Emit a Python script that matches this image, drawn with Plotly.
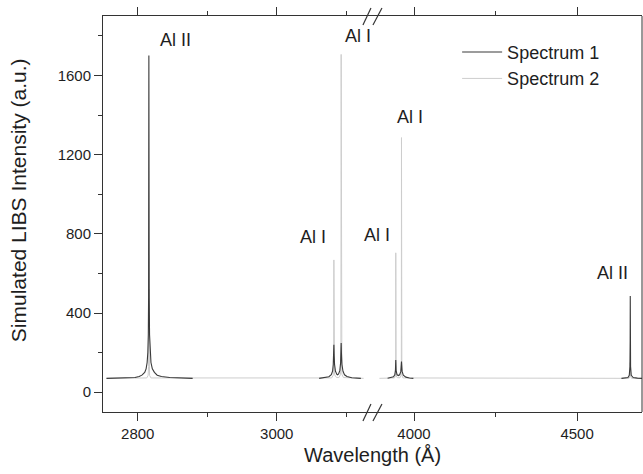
import plotly.graph_objects as go

# ---- Spectrum 1 (dark): hand-read profile points, one list per plotted piece ----
s1_a_wl = [2755, 2780, 2790, 2796, 2802, 2806, 2810, 2812, 2813.5, 2814.5, 2815.2, 2815.6, 2815.8,
           2816.0, 2816.2, 2816.5, 2817.0, 2817.8, 2819, 2821, 2824, 2828, 2834, 2846, 2860, 2879]
s1_a_int = [70, 71, 72, 74, 79, 86, 100, 118, 150, 200, 290, 480, 1120,
            1700, 1120, 480, 290, 200, 150, 118, 100, 86, 79, 74, 72, 70]

s1_b_wl = [3061, 3070, 3075, 3078.5, 3080.3, 3081.3, 3081.8, 3082.2, 3082.6, 3083.2, 3084.5,
           3086.5, 3087.5, 3089, 3090.8, 3091.9, 3092.3, 3092.7, 3093.1, 3093.8, 3095.3,
           3097.5, 3101, 3108, 3121]
s1_b_int = [70, 73, 78, 88, 106, 140, 185, 240, 185, 140, 106,
            90, 88, 92, 110, 150, 195, 248, 195, 140, 106,
            88, 79, 73, 70]

s1_c_wl = [3919, 3930, 3937, 3941, 3943, 3944, 3945, 3948, 3952, 3956, 3959.5,
           3961.5, 3963.5, 3967, 3975, 3986, 3998]
s1_c_int = [70, 73, 78, 88, 110, 162, 110, 88, 84, 88, 105,
            155, 105, 86, 76, 72, 70]

s1_d_wl = [4636, 4650, 4656, 4660, 4662, 4662.7, 4663, 4663.3, 4664, 4666, 4672, 4685, 4699]
s1_d_int = [70, 71, 74, 85, 130, 263, 486, 263, 130, 85, 74, 71, 70]

# ---- Spectrum 2 (light) ----
s2_left_wl = [2755, 2813, 2815, 2815.6, 2816.0, 2816.4, 2817, 2819,
              3079, 3081.2, 3081.8, 3082.2, 3082.6, 3083.2, 3086,
              3089.5, 3091.7, 3092.3, 3092.7, 3093.1, 3093.7, 3096, 3125]
s2_left_int = [70, 72, 85, 130, 520, 130, 85, 72,
               72, 85, 130, 668, 130, 88, 74,
               74, 90, 150, 1706, 150, 90, 74, 70]

s2_right_wl = [3894, 3940, 3942.8, 3943.6, 3944, 3944.4, 3945.2, 3949,
               3957, 3960.3, 3961.1, 3961.5, 3961.9, 3962.7, 3966,
               4659, 4662, 4663, 4664, 4667, 4699]
s2_right_int = [70, 72, 82, 120, 704, 120, 82, 73,
                73, 85, 140, 1286, 140, 85, 72,
                70, 80, 150, 80, 70, 70]

# ---- line labels ----
label_text = ["Al II", "Al I", "Al I", "Al I", "Al I", "Al II"]
label_axis = ["x", "x", "x", "x2", "x2", "x2"]
label_wl = [2855, 3117, 3052, 3886, 3988, 4610]
label_int = [1777, 1797, 785, 795, 1392, 603]

# ---- axes ----
left_range = [2750, 3137]
right_range = [3871, 4699]
y_range = [-100, 1900]
y_ticks = [0, 400, 800, 1200, 1600]
split = 0.499

DARK = "#3a3a3a"
LIGHT = "#cdcdcd"
INK = "#1e1e1e"
AXC = "#333333"
FONT = "Liberation Sans, Arial, sans-serif"

fig = go.Figure()

# light spectrum first so the dark one sits on top of it
fig.add_trace(go.Scatter(x=s2_left_wl, y=s2_left_int, xaxis="x", yaxis="y", mode="lines",
                         line=dict(color=LIGHT, width=1), name="Spectrum 2",
                         legendgroup="s2", legendrank=2))
fig.add_trace(go.Scatter(x=s2_right_wl, y=s2_right_int, xaxis="x2", yaxis="y", mode="lines",
                         line=dict(color=LIGHT, width=1), name="Spectrum 2",
                         legendgroup="s2", showlegend=False))

for i, (wl, it, ax) in enumerate([(s1_a_wl, s1_a_int, "x"), (s1_b_wl, s1_b_int, "x"),
                                  (s1_c_wl, s1_c_int, "x2"), (s1_d_wl, s1_d_int, "x2")]):
    fig.add_trace(go.Scatter(x=wl, y=it, xaxis=ax, yaxis="y", mode="lines",
                             line=dict(color=DARK, width=1.1), name="Spectrum 1",
                             legendgroup="s1", legendrank=1, showlegend=(i == 0)))

tick_common = dict(ticks="outside", ticklen=8, tickwidth=1, tickcolor=AXC,
                   showline=True, linecolor=AXC, linewidth=1, mirror="ticks",
                   showgrid=False, zeroline=False,
                   tickfont=dict(family=FONT, size=15, color=INK))

fig.update_layout(
    width=643, height=474,
    margin=dict(l=103, r=1, t=16, b=62),
    paper_bgcolor="white", plot_bgcolor="white",
    font=dict(family=FONT, color=INK),
    xaxis=dict(domain=[0, split], range=left_range, anchor="y",
               tick0=2800, dtick=200,
               minor=dict(dtick=100, tick0=2800, ticks="outside", ticklen=4, tickcolor=AXC),
               **tick_common),
    xaxis2=dict(domain=[split, 1], range=right_range, anchor="y",
                tick0=4000, dtick=500,
                minor=dict(dtick=250, tick0=4000, ticks="outside", ticklen=4, tickcolor=AXC),
                **tick_common),
    yaxis=dict(domain=[0, 1], range=y_range, anchor="x", tickvals=y_ticks,
               ticks="outside", ticklen=8, tickwidth=1, tickcolor=AXC,
               minor=dict(dtick=200, tick0=0, ticks="outside", ticklen=4, tickcolor=AXC),
               showline=True, linecolor=AXC, linewidth=1, mirror=False,
               showgrid=False, zeroline=False,
               tickfont=dict(family=FONT, size=15, color=INK)),
    legend=dict(x=0.657, y=0.955, xanchor="left", yanchor="top",
                bgcolor="rgba(0,0,0,0)", borderwidth=0,
                font=dict(family=FONT, size=18, color=INK),
                itemwidth=40, tracegroupgap=0),
    showlegend=True,
)

# right-hand frame edge
fig.add_shape(type="line", xref="paper", yref="paper", x0=1, x1=1, y0=0, y1=1,
              line=dict(color=AXC, width=1))

# axis-break marks "//" on the bottom and top axis lines
for yp in (0, 1):
    for dx0, dx1 in ((-9, -1), (1, 10)):
        fig.add_shape(type="line", xref="paper", yref="paper",
                      xsizemode="pixel", xanchor=split, x0=dx0, x1=dx1,
                      ysizemode="pixel", yanchor=yp, y0=-9, y1=8,
                      line=dict(color=AXC, width=1.2))

for txt, ax, xv, yv in zip(label_text, label_axis, label_wl, label_int):
    fig.add_annotation(x=xv, y=yv, xref=ax, yref="y", text=txt, showarrow=False,
                       font=dict(family=FONT, size=18, color=INK))

fig.add_annotation(x=0.5, y=0, xref="paper", yref="paper", yanchor="top",
                   yshift=-30, text="Wavelength (Å)", showarrow=False,
                   font=dict(family=FONT, size=20, color=INK))
fig.add_annotation(x=0, y=0.535, xref="paper", yref="paper", xanchor="center",
                   xshift=-85, textangle=-90, text="Simulated LIBS Intensity (a.u.)",
                   showarrow=False, font=dict(family=FONT, size=21, color=INK))

fig.write_html("out.html")
